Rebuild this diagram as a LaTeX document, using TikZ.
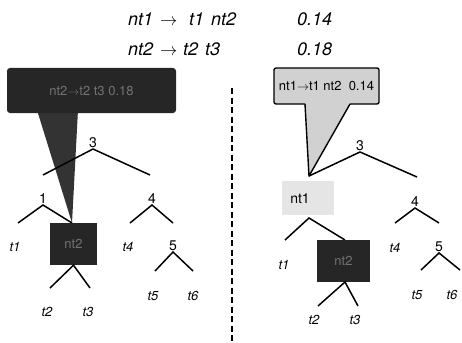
\documentclass[tikz,border=0pt]{standalone}
\usepackage{fontspec}
\setmainfont{TeX Gyre Heros}
\begin{document}
\begin{tikzpicture}[x=1pt,y=-1pt,
  ttl/.style={font=\fontsize{18}{20}\selectfont\itshape,inner sep=0pt,anchor=base west},
  num/.style={font=\fontsize{14}{16}\selectfont,inner sep=1pt,anchor=south},
  leaf/.style={font=\fontsize{13}{15}\selectfont\itshape,inner sep=1pt},
  branch/.style={line width=1.5pt},
  darkbox/.style={fill=black!85,draw=none,minimum width=47pt,minimum height=42pt,inner sep=0pt,
    font=\fontsize{13}{15}\selectfont,text=black!55},
  calloutline/.style={line width=1.4pt,line join=round}]
\useasboundingbox (0,0) rectangle (462,342);

% ---- rule lines at the top
\node[ttl] (r1a) at (128,26) {nt1};
\node[ttl] (r1b) at (160,26) {$\rightarrow$};
\node[ttl] (r1c) at (189,26) {t1};
\node[ttl] (r1d) at (211,26) {nt2};
\node[ttl] (r1e) at (297,26) {0.14};
\node[ttl] (r2a) at (128,56) {nt2};
\node[ttl] (r2b) at (160,56) {$\rightarrow$};
\node[ttl] (r2c) at (183,56) {t2};
\node[ttl] (r2d) at (205,56) {t3};
\node[ttl] (r2e) at (297,56) {0.18};

% ---- separator
\coordinate (sepT) at (232,88);
\coordinate (sepB) at (232,342);
\draw[line width=1.6pt,dash pattern=on 6pt off 3.5pt] (sepT) -- (sepB);

% ================= left tree
% dark callout
\coordinate (ltipL) at (37,110);
\coordinate (ltipR) at (78,110);
\coordinate (ltip) at (72,223);
\fill[black!80] (ltipL) -- (ltipR) -- (ltip) -- cycle;
\node[fill=black!85,rounded corners=3pt,minimum width=169pt,minimum height=45pt,
  font=\fontsize{13}{15}\selectfont,text=black!55] (lcall) at (91.5,90.5) {nt2$\rightarrow$t2 t3 0.18};

\node[num] (l3) at (93,149) {3};
\coordinate (l3a) at (43,175);
\coordinate (l3b) at (150,175);
\draw[branch] (l3a) -- (l3.south) -- (l3b);

\node[num] (l1) at (43,205) {1};
\coordinate (l1a) at (18,223);
\coordinate (l1b) at (72,223);
\draw[branch] (l1a) -- (l1.south) -- (l1b);

\node[darkbox] (lnt2) at (73.5,244) {nt2};
\coordinate (l2a) at (50,288);
\coordinate (l2b) at (90,288);
\draw[branch] (l2a) -- (lnt2.south) -- (l2b);

\node[leaf] (lt1) at (15,247) {t1};
\node[leaf] (lt2) at (47,312) {t2};
\node[leaf] (lt3) at (88,312) {t3};

\node[num] (l4) at (152,205) {4};
\coordinate (l4a) at (130,223);
\coordinate (l4b) at (173,223);
\draw[branch] (l4a) -- (l4.south) -- (l4b);
\node[leaf] (lt4) at (128,247) {t4};

\node[num] (l5) at (173,252) {5};
\coordinate (l5a) at (155,271);
\coordinate (l5b) at (193,271);
\draw[branch] (l5a) -- (l5.south) -- (l5b);
\node[leaf] (lt5) at (153,296) {t5};
\node[leaf] (lt6) at (193,296) {t6};

% ================= right tree
% light callout
\coordinate (rtip) at (309,176);
\fill[black!18,rounded corners=2pt] (274,68) -- (379,68) -- (379,104) -- (350,104)
  -- (rtip) -- (305,104) -- (274,104) -- cycle;
\draw[calloutline,rounded corners=2pt] (305,104) -- (274,104) -- (274,68) -- (379,68) -- (379,104) -- (350,104);
\draw[calloutline] (305,104) -- (rtip) -- (350,104);
\node[font=\fontsize{13}{15}\selectfont,inner sep=0pt] (rcall) at (326.5,86) {nt1$\rightarrow$t1 nt2\ \ 0.14};

\node[num] (r3) at (360,152) {3};
\coordinate (r3b) at (417,177);
\draw[branch] (rtip) -- (r3.south) -- (r3b);

\fill[black!10] (282,181) rectangle (334,215);
\node[font=\fontsize{14}{16}\selectfont,inner sep=1pt] (rnt1) at (300,199) {nt1};
\coordinate (rnt1ap) at (309,218);
\coordinate (r1a) at (285,240);
\coordinate (r1b) at (345,240);
\draw[branch] (r1a) -- (rnt1ap) -- (r1b);

\node[darkbox,minimum width=53pt] (rnt2) at (343.5,261) {nt2};
\coordinate (r2ap) at (345,282);
\coordinate (r2a) at (318,306);
\coordinate (r2b) at (358,306);
\draw[branch] (r2a) -- (r2ap) -- (r2b);

\node[leaf] (rt1) at (284,265) {t1};
\node[leaf] (rt2) at (314,320) {t2};
\node[leaf] (rt3) at (355,320) {t3};

\node[num] (r4) at (415,208) {4};
\coordinate (r4a) at (395,223);
\coordinate (r4b) at (439,223);
\draw[branch] (r4a) -- (r4.south) -- (r4b);
\node[leaf] (rt4) at (395,248) {t4};

\node[num] (r5) at (439,253) {5};
\coordinate (r5a) at (421,270);
\coordinate (r5b) at (460,270);
\draw[branch] (r5a) -- (r5.south) -- (r5b);
\node[leaf] (rt5) at (417,295) {t5};
\node[leaf] (rt6) at (452,295) {t6};
\end{tikzpicture}
\end{document}
